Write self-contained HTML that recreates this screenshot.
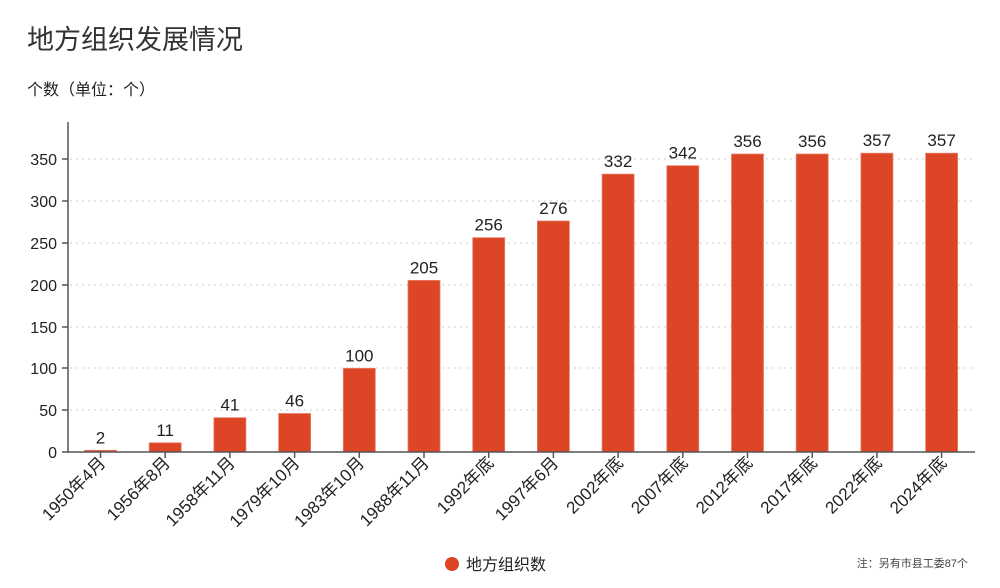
<!DOCTYPE html>
<html><head><meta charset="utf-8"><style>
body{margin:0;background:#fff;}
svg{display:block;font-family:"Liberation Sans","Noto Sans CJK SC",sans-serif;}
</style></head><body>
<svg width="1000" height="588" xmlns="http://www.w3.org/2000/svg">
<text x="27" y="49" font-size="27" fill="#333">地方组织发展情况</text>
<text x="27" y="95" font-size="16" fill="#222">个数（单位：个）</text>
<g stroke="#ccc" stroke-dasharray="2,4" stroke-width="1">
<line x1="70" x2="975" y1="159" y2="159"/><line x1="70" x2="975" y1="201" y2="201"/>
<line x1="70" x2="975" y1="243" y2="243"/><line x1="70" x2="975" y1="285" y2="285"/>
<line x1="70" x2="975" y1="327" y2="327"/><line x1="70" x2="975" y1="368" y2="368"/>
<line x1="70" x2="975" y1="410" y2="410"/>
</g>
<g font-size="16" fill="#222" text-anchor="end">
<text x="57" y="165">350</text><text x="57" y="207">300</text><text x="57" y="249">250</text>
<text x="57" y="291">200</text><text x="57" y="333">150</text><text x="57" y="374">100</text>
<text x="57" y="416">50</text><text x="57" y="458">0</text>
</g>
<g fill="#dc4526" stroke="#e8806a" stroke-width="0.8">
<rect x="84.5" y="450.3" width="32" height="1.7"/>
<rect x="149.2" y="442.8" width="32" height="9.2"/>
<rect x="213.9" y="417.7" width="32" height="34.3"/>
<rect x="278.6" y="413.5" width="32" height="38.5"/>
<rect x="343.3" y="368.3" width="32" height="83.7"/>
<rect x="408" y="280.4" width="32" height="171.6"/>
<rect x="472.7" y="237.7" width="32" height="214.3"/>
<rect x="537.4" y="221" width="32" height="231"/>
<rect x="602.1" y="174.1" width="32" height="277.9"/>
<rect x="666.8" y="165.7" width="32" height="286.3"/>
<rect x="731.5" y="154" width="32" height="298"/>
<rect x="796.2" y="154" width="32" height="298"/>
<rect x="860.9" y="153.2" width="32" height="298.8"/>
<rect x="925.6" y="153.2" width="32" height="298.8"/>
</g>
<g stroke="#555" stroke-width="1.5">
<line x1="68" y1="122" x2="68" y2="453"/>
<line x1="68" y1="452" x2="975" y2="452"/>
<line x1="62" x2="68" y1="159" y2="159"/><line x1="62" x2="68" y1="201" y2="201"/>
<line x1="62" x2="68" y1="243" y2="243"/><line x1="62" x2="68" y1="285" y2="285"/>
<line x1="62" x2="68" y1="327" y2="327"/><line x1="62" x2="68" y1="368" y2="368"/>
<line x1="62" x2="68" y1="410" y2="410"/><line x1="62" x2="68" y1="452" y2="452"/>
<line x1="100.5" x2="100.5" y1="452" y2="458"/><line x1="165.2" x2="165.2" y1="452" y2="458"/>
<line x1="229.9" x2="229.9" y1="452" y2="458"/><line x1="294.6" x2="294.6" y1="452" y2="458"/>
<line x1="359.3" x2="359.3" y1="452" y2="458"/><line x1="424" x2="424" y1="452" y2="458"/>
<line x1="488.7" x2="488.7" y1="452" y2="458"/><line x1="553.4" x2="553.4" y1="452" y2="458"/>
<line x1="618.1" x2="618.1" y1="452" y2="458"/><line x1="682.8" x2="682.8" y1="452" y2="458"/>
<line x1="747.5" x2="747.5" y1="452" y2="458"/><line x1="812.2" x2="812.2" y1="452" y2="458"/>
<line x1="876.9" x2="876.9" y1="452" y2="458"/><line x1="941.6" x2="941.6" y1="452" y2="458"/>
</g>
<g font-size="17" fill="#222" text-anchor="middle">
<text x="100.5" y="443.3">2</text><text x="165.2" y="435.8">11</text>
<text x="229.9" y="410.7">41</text><text x="294.6" y="406.5">46</text>
<text x="359.3" y="361.3">100</text><text x="424" y="273.4">205</text>
<text x="488.7" y="230.7">256</text><text x="553.4" y="214">276</text>
<text x="618.1" y="167.1">332</text><text x="682.8" y="158.7">342</text>
<text x="747.5" y="147">356</text><text x="812.2" y="147">356</text>
<text x="876.9" y="146.2">357</text><text x="941.6" y="146.2">357</text>
</g>
<g font-size="17" fill="#222" text-anchor="end">
<text transform="translate(106.5,464) rotate(-45)">1950年4月</text>
<text transform="translate(171.2,464) rotate(-45)">1956年8月</text>
<text transform="translate(235.9,464) rotate(-45)">1958年11月</text>
<text transform="translate(300.6,464) rotate(-45)">1979年10月</text>
<text transform="translate(365.3,464) rotate(-45)">1983年10月</text>
<text transform="translate(430,464) rotate(-45)">1988年11月</text>
<text transform="translate(494.7,464) rotate(-45)">1992年底</text>
<text transform="translate(559.4,464) rotate(-45)">1997年6月</text>
<text transform="translate(624.1,464) rotate(-45)">2002年底</text>
<text transform="translate(688.8,464) rotate(-45)">2007年底</text>
<text transform="translate(753.5,464) rotate(-45)">2012年底</text>
<text transform="translate(818.2,464) rotate(-45)">2017年底</text>
<text transform="translate(882.9,464) rotate(-45)">2022年底</text>
<text transform="translate(947.6,464) rotate(-45)">2024年底</text>
</g>
<circle cx="452" cy="564" r="7" fill="#dc4526"/>
<text x="466" y="570" font-size="16" fill="#222">地方组织数</text>
<text x="968" y="567" font-size="11" fill="#444" text-anchor="end">注：另有市县工委87个</text>
</svg>
</body></html>
